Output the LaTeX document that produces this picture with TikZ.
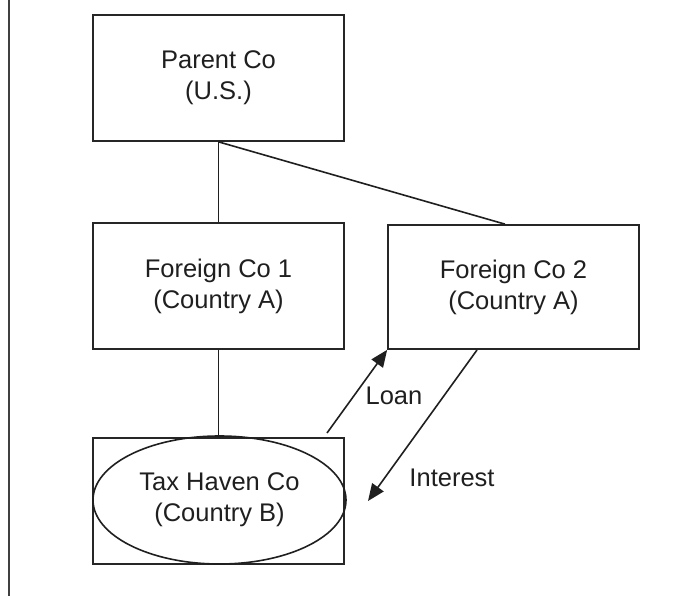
\documentclass[tikz,border=0pt]{standalone}
\usepackage{fontspec}
\setmainfont{Liberation Sans}
\usetikzlibrary{arrows.meta,shapes.geometric}
\begin{document}
\begin{tikzpicture}[x=1pt,y=-1pt,
  every node/.style={font=\fontsize{25.5}{31}\selectfont, align=center, text=black!88},
  cobox/.style={draw=black!85, line width=1.7pt, inner sep=0pt, minimum width=251pt, minimum height=126pt},
  conn/.style={draw=black!88, line width=1.6pt},
  flow/.style={conn, -{Triangle[length=17pt,width=14pt]}},
  lbl/.style={inner sep=0pt}]
\useasboundingbox (0,0) rectangle (695,596);
\coordinate (bt) at (9,0);
\coordinate (bb) at (9,596);
\draw[black!75, line width=1.5pt] (bt) -- (bb);

\node[cobox] (parent) at (218.5,78) {Parent Co\\(U.S.)};
\node[cobox] (fc1) at (218.5,286) {Foreign Co 1\\(Country A)};
\node[cobox, minimum width=251pt, minimum height=124pt] (fc2) at (513.5,287) {Foreign Co 2\\(Country A)};
\node[cobox] (thbox) at (218.5,501) {};
\node[draw=black!88, line width=1.6pt, ellipse, inner sep=0pt, minimum width=253pt, minimum height=128pt] (th) at (219.5,500) {Tax Haven Co\\(Country B)};

\draw[conn] (parent.south) -- (fc1.north);
\draw[conn] (parent.south) -- ([xshift=-8.5pt]fc2.north);
\draw[conn] (fc1.south) -- (thbox.north);

\coordinate (loanstart) at (327,433);
\coordinate (intstart) at (477,350);
\coordinate (intend) at (368,501);
\draw[flow] (loanstart) -- (fc2.south west);
\draw[flow] (intstart) -- (intend);

\node[lbl] (loan) at (394,396) {Loan};
\node[lbl] (interest) at (452,478) {Interest};
\end{tikzpicture}
\end{document}
